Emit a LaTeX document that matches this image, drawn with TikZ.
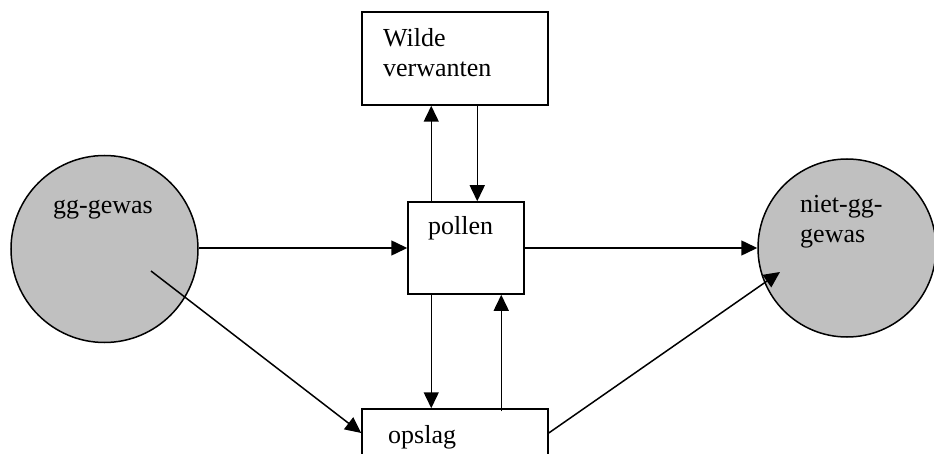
\documentclass[tikz,border=0pt]{standalone}
\usepackage{fontspec}
\setmainfont{Liberation Serif}
\usetikzlibrary{arrows.meta}
\definecolor{cropgray}{HTML}{C0C0C0}
\tikzset{
  crop/.style={circle, draw=black, fill=cropgray, line width=1.5pt, inner sep=0pt},
  flowbox/.style={rectangle, draw=black, fill=white, line width=1.5pt, inner sep=0pt},
  lbl/.style={anchor=base west, inner sep=0pt, font=\fontsize{26}{30}\selectfont},
  flow/.style={line width=1.5pt, -{Triangle[length=16pt,width=15pt]}}
}
\begin{document}
\begin{tikzpicture}[x=1pt,y=-1pt]
\useasboundingbox (0,0) rectangle (934,454);
\clip (0,0) rectangle (934,454);
\fill[white] (0,0) rectangle (934,454);
% nodes
\node[crop, minimum size=187pt] (gg) at (104.5,249) {};
\node[crop, minimum size=178pt] (ngg) at (847,248) {};
\node[flowbox, minimum width=186pt, minimum height=93pt] (wilde) at (455,58.5) {};
\node[flowbox, minimum width=116pt, minimum height=92pt] (pollen) at (466,248) {};
\node[flowbox, minimum width=186pt, minimum height=48pt] (opslag) at (455,433) {};
% texts
\node[lbl] (tWildeA) at (383,47) {Wilde};
\node[lbl] (tWildeB) at (383,77) {verwanten};
\node[lbl] (tPollen) at (428,235) {pollen};
\node[lbl] (tOpslag) at (388,443) {opslag};
\node[lbl] (tGG) at (53,214) {gg-gewas};
\node[lbl] (tNGGa) at (800,213) {niet-gg-};
\node[lbl] (tNGGb) at (800,243) {gewas};
% helper coordinates
\coordinate (ggInner) at (151,271);
\coordinate (nggInner) at (780,272);
% connectors
\draw[flow] (gg.east |- pollen.west) -- (pollen.west);
\draw[flow] (pollen.east) -- (ngg.west |- pollen.east);
\draw[flow] ([xshift=24pt]pollen.north west) -- ([xshift=24pt]pollen.north west |- wilde.south);
\draw[flow] ([xshift=70pt]pollen.north west |- wilde.south) -- ([xshift=70pt]pollen.north west);
\draw[flow] ([xshift=24pt]pollen.south west) -- ([xshift=24pt]pollen.south west |- opslag.north);
\draw[flow] ([xshift=94pt,yshift=-3pt]pollen.south west |- opslag.north) -- ([xshift=94pt]pollen.south west);
\draw[flow] (ggInner) -- (opslag.west);
\draw[flow] (opslag.east) -- (nggInner);
\end{tikzpicture}
\end{document}
